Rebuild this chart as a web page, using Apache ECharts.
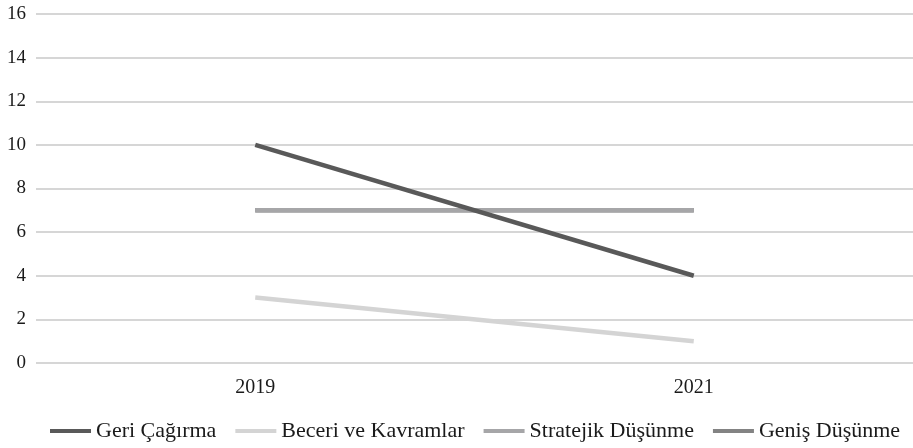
<!DOCTYPE html>
<html><head><meta charset="utf-8">
<script src="https://cdn.jsdelivr.net/npm/echarts@6/dist/echarts.min.js"></script>
<style>html,body{margin:0;padding:0;background:#fff}#c{width:913px;height:448px}</style>
</head><body><div id="c"></div>
<script>
const categories = ['2019', '2021'];
const geriCagirma = [10, 4];
const beceriKavramlar = [3, 1];
const stratejikDusunme = [7, 7];
const genisDusunme = [7, 7];
const seriesNames = ['Geri Çağırma', 'Beceri ve Kavramlar', 'Stratejik Düşünme', 'Geniş Düşünme'];
const colors = ['#595959', '#D4D4D4', '#A6A6A8', '#838383'];
const font = '"Liberation Serif", "Times New Roman", serif';

const chart = echarts.init(document.getElementById('c'), null, {renderer: 'canvas'});
const dataList = [geriCagirma, beceriKavramlar, stratejikDusunme, genisDusunme];
const zs = [4, 3, 2, 1];
chart.setOption({
  animation: false,
  textStyle: {fontFamily: font},
  grid: {left: 36, right: -4, top: 14, bottom: 85, containLabel: false},
  legend: {
    bottom: 1, left: 45, icon: 'rect', itemWidth: 41, itemHeight: 4, itemGap: 19,
    textStyle: {fontFamily: font, fontSize: 22, color: '#1a1a1a'},
    data: seriesNames
  },
  xAxis: {
    type: 'category', data: categories, boundaryGap: true,
    axisLine: {show: false}, axisTick: {show: false},
    axisLabel: {fontFamily: font, fontSize: 20, color: '#1a1a1a', margin: 15}
  },
  yAxis: {
    type: 'value', min: 0, max: 16, interval: 2,
    axisLine: {show: false}, axisTick: {show: false},
    axisLabel: {fontFamily: font, fontSize: 19, color: '#1a1a1a', margin: 10},
    splitLine: {lineStyle: {color: '#C8C8C8', width: 1.5}}
  },
  series: seriesNames.map((n, i) => ({
    name: n, type: 'line', data: dataList[i], z: zs[i] + 2,
    symbol: 'none', color: colors[i],
    lineStyle: {width: 4.5, color: colors[i], cap: 'butt'},
    itemStyle: {color: colors[i]}
  }))
});
</script></body></html>
